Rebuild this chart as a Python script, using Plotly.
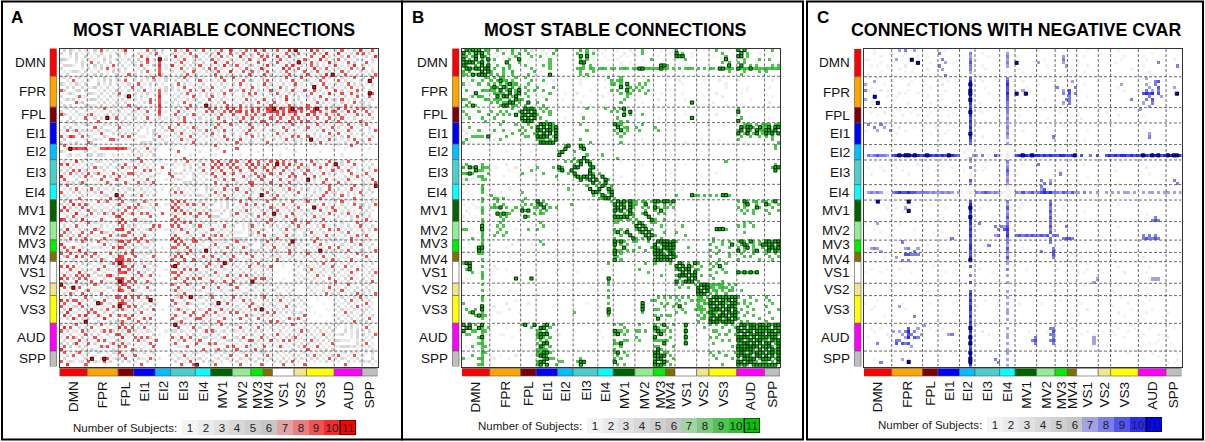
import numpy as np
import plotly.graph_objects as go

W, H = 1205, 442
FONT = "Liberation Sans, Arial, Helvetica, sans-serif"

networks = ["DMN", "FPR", "FPL", "EI1", "EI2", "EI3", "EI4", "MV1",
            "MV2", "MV3", "MV4", "VS1", "VS2", "VS3", "AUD", "SPP"]
network_sizes = [9, 10, 5, 7, 5, 8, 5, 7, 6, 4, 3, 7, 4, 9, 9, 5]
network_colors = ["#ff0000", "#ffa500", "#7f0000", "#0000ff", "#00bfff", "#48d1cc",
                  "#00ffff", "#006400", "#90ee90", "#00ee00", "#7f7000", "#ffffff",
                  "#f0e68c", "#ffff00", "#ff00ff", "#bebebe"]

subject_levels = list(range(1, 12))
gray_levels = ["#f3f3f3", "#eaeaea", "#e1e1e1", "#d8d8d8", "#cfcfcf", "#c6c6c6"]
red_levels = ["#e3a3a3", "#ea7d7d", "#f05353", "#f72a2a", "#ff0000"]
green_levels = ["#a3d3a3", "#7ccb7c", "#52c352", "#29c429", "#00c800"]
blue_levels = ["#a3a3e3", "#7d7deb", "#5353f0", "#2a2af7", "#0000ff"]

# Upper triangle of each matrix: one string per node, holding the columns to the
# right of the diagonal; '|' separates networks. '.' = 0, 1-9, a = 10, b = 11 subjects.
variable_rows = [
    # DMN
    "4.52.4.2|2.5.9.4.2.|.4a.2|..2.9.4|2.5..|.9.4.a.2|4.9.2|.4.9..a|2.5.9.|.a.4|9.2|.9.2.a.|b.2.|.a.9.4.2.|4.9.2.5.a|.2.9.",
    ".5.4.2.|4.2.5..2.4|2.5..|.4.2.5.|9.2..|4.2.5.9.|.2.4.|5.a.2.9|.4.9.2|2.9.|.5.|4.2.9.5|.9.4|2.9.5.a..|.a.2.4.9.|9.4..",
    "2.4..5|.2.4.2.5..|4.2.5|2.9.4..|.4.2.|.a.4.2.5|9.2.4|.4.9.5.|2.a.4.|4..9|.9.|.a.4.9.|4.2.|.9.2.a.4.|2.5.9.4..|.4.2a",
    ".4.2.|4.2..5.2.4|.2.4.|.5..a.2|.b.4.|2.4.9..2|.4.2.|9.5.2.4|.2.5.9|2.4.|9..|2.9.4..|.4.9|4.2.a.5.2|.9.4.2.5.|2..4.",
    "2.4.|.9.4.2.5..|4.2.5|2.4.9..|.9...|.4.9.2.4|2.4..|.a.2.9.|4.2.5.|..9.|2.4|.9.2.5.|.b.4|.9.4.2.a.|4.2.9.5..|.9.2.",
    ".4.|2.5.4.2.9.|.4.2.|4.9.2.5|.a.2.|a.2.5.4.|.9.2.|2.4.a.5|.9.2.4|4.2.|.a.|4.2.9.a|2.4.|.9.5.2.4.|9.2.4.a..|4.2..",
    "2.|4.2.5.9.2.|2.4..|.2.5..|.9.2.|.2.9.4.5|2.5.9|.9.4.2.|2.4.9.|.2.a|4..|.2.a.9.|.9..|2.a.4.9.2|.4.2.9.5.|9..2.",
    "4|.2.4..2.5.|4.2..|2.4.9..|.9...|4.2.5..9|.2.4.|4.9.2.a|.2.9.4|9.4.|.9.|5.4.9.2|4..9|.4.9.2.4.|2.9.5.2.4|.2.4.",
    "|2.4.5.2..4|.2.9.|4.2..2.|.a4.2|.2.4.9.2|4.2..|.9.2.4.|2.4..9|4.2.|9.4|.2.4.9.|2.4.|9.2.4.a.b|.4.9.2.4.|2.4.9",
    # FPR
    "4.2.5.2.4|2.4..|4.2.5.9|.2.4.|2.4.9.2.|4.2..|.4.9.2.|9.2.4.|.2.4|2..|4.2.9..|2.9.|.2.4.9.4.|2.4.2.9..|4..9.",
    ".2.4.5.2|4.9..|2.4.2.5|.2.4.|.4.2.5..|.9.2.|2.4.9..|.2.9.4|4.2.|.9.|2.4.2.9|.2.4|4.2.9.2..|.9.4.2..4|..b..",
    "5.2.4.2|.2.4.|.9.2.4.|4.2..|2.9.4.2.|2.4..|.2.4.2.|4.9.2.|..2.|9.4|.2.4.2.|9.2.|.4.2.9.2.|4.2.9.4.2|.2.4.",
    "2.4.2.|4.2.9|2.4..2.|.2.4.|4.2.9..2|.4.2.|9.2.4..|2.4.2.|9.2.|.4.|2.9.4..|4.2.|..b.2.9.4|.2.4.9.2.|4..2.",
    "4.2.5|.2.4.|.4.9.2.|.9.4.|2.4.2.9.|4.9.2|.2.4..9|.4.9.2|2.4.|2.9|4.2.4.9|.2.9|2.9.4.2..|9.4.2..9.|2.4..",
    "2.4.|9.2..|4.2.5..|.9.2.|.2.4.9.2|.2.4.|4.2.9.2|2..4.9|.9.2|..4|.9.2.4.|4.2.|.9.2.4.a.|2.9..9.4.|..b9.",
    "4.2|2.4b.|2.4.2..|.a...|2.4.2..9|.2.4.|9.2.4..|.2.4.2|4.2.|.2.|2.4.9.2|.4.2|4.2.9..2.|.2.4.2.9.|2.9..",
    "2.|.4.2.|4.2..9.|.9...|.4.2.4.2|4.2.9|.2.4.2.|4.2.9.|.4.2|9..|4.2.a.2|.4..|2.4.2.9.4|4.9.2.4..|.2.4.",
    "4|2.4..|.2.4.9.|.9.2.|4.2.9.2.|.4.2.|2.4.9..|.2.4.2|2.9.|.4.|9.2.4.2|2.4.|.2.9.4.2.|2.4.2.9.4|4.2..",
    "|.2.9.|4.2..2.|.a...|2.4.2.9.|4..b2|.4.2.9.|2.9.4.|4.2.|2.9|.4.2.9.|4.2.|9.2.4.2.4|.2.9.4.2.|2.4..",
    # FPL
    "4.2.|.9.4.2.|.9...|.4.2.9.2|4.2.9|.9.4.a.2|a.9.4.9|9.a.|4a9|b.a9.9b|.9a.|9.ab..9.4|.a.9.4.9.|9.4.2",
    "2.4|4.2.9..|.a.2.|2.9.4.2.|.2.9.|9.4.9.a|.9a.9.|a.9.|.9a|9a.9.a9|a.9.|.9a.9.4.9|9.4.a.9.2|.9.4.",
    "4.|.2.4.2.|.9...|.9.2.4.9|2.4.2|.4.9.2.|9.2.9.4|.9.4|9.2|.9.a.4.|9.2.|a.9.4.9.2|.9.4.2.9.|2.9..",
    "2|4.2.9..|.4.2.|2.4.9..2|.4.2.|2.9.4.2|.4.9.2|9.4.|2.9|4.9.2.9|.9.4|.4.9.2.9.|4.9.2.4..|.2.4.",
    "|.2.4.2.|2.4..|4.2.9.2.|.2.4.|4.2.9..|2.9.4.|.4.9|9..|.9.4.a.|4.9.|9.4.2.9.4|.9.4.2..9|4.2..",
    # EI1
    "2.4.2.|.4.2.|2.9.4.2.|.2.4.|4.9.2.9|.4.2.9|2.4.|.9.|4.2.4.9|2.4.|.2.9.4.2.|2.4.9.2.4|.9.2.",
    "4.2..|2.4.9|.4.2.4.9|4.2..|.9.4.2.|2.4.2.|9.2.|4..|.2.9.4.|.4.2|9.2.4.2.9|.4.2.9.2.|2.4..",
    ".2.4|.2.4.|9.2.4.2.|.4.9.|2.4.9.2|.2.4.9|.4.2|2.4|4.2.9.2|2..4|.2.4.9.2.|4.2.9.2.4|..2.9",
    "2.4|4.2..|.4.9.2.4|2.4..|9.2.4.2|4.2.9.|2.4.|.2.|.9.4.2.|4.2.|2.4.2..9.|.9.2.4.2.|4.2..",
    ".2|.9.2.|2.4.2.9.|.2.4.|4.2.9..|2.4.2.|9.4.|4.2|2.4.2.9|.9..|9.2.4.2.4|2.4.9.2..|.2.4.",
    "4|2.4..|.2.9.4.2|4.2..|.4.2.9.|4.9.2.|.2.4|2..|4.2.9.2|2.4.|.b.4.2.9.|4.2.4.9.2|2.9..",
    "|.2.4.|4.2..2.9|.2.4.|2.4.2..|.9.2.4|4.2.|.9.|.2.4.2.|4.2.|2.4.9.2..|.2.4.2.9.|4.2..",
    # EI2
    "2...|.2..2...|..2..|.9...2.|..2...|....|..2|.2.....|....|..2.....|.2...9...|.....",
    "..2|2...2...|.....|..2....|.9....|....|...|....2..|....|.........|...2.....|..2..",
    "..|..9.....|.2...|....9..|......|..2.|...|.......|2...|....2....|.........|.....",
    ".|.2....2.|.....|.2.....|..2...|....|...|..2....|....|.........|..2......|.....",
    "|....9...|..2..|.......|......|....|.2.|.......|....|...2.....|.........|.2...",
    # EI3
    "4.2.9.2|.4.2.|9.a.4.9|.9.4.a|2.9.|4.9|.a.9.4.|9.2.|.9.4.2.9.|2.4.9.2..|4.2..",
    "2.4.2.|4.9.2|.9.a.9.|9.4.9.|a.9.|.9.|.b.9.a.|4.9.|2.9.4.9.2|b.4.2.9..|.2.4.",
    ".2.4.|.4.2.|a.9.4.9|.9.2.9|.9.4|9.2|9.4.9.2|.9.4|4.2.9.2.4|.9.2.4.2.|2.4..",
    "4.2.|2.9..|.4.9.2.|4.9..2|9.2.|.a.|.2.9.4.|2.4.|9.2.4.2.9|2.4.9..2.|4.2.9",
    "2.4|.2.4.|9.2.a.4|9.4.2.|.9.4|2.9|4.9.2.9|.2.9|.4.2.9.4.|4.2..9.2.|.9.2.",
    ".2|4.2..|.9.4.2.|.2.9.4|2.9.|9..|.4.2.9.|9.2.|2.9.4..2.|.2.4.2.9.|2.4..",
    "4|.2.4.|2.4.9.2|9.2.4.|.4.9|.2.|2.9.4.2|4.2.|b.4.2.9.2|4.2.9.2..|.2.9.",
    "|4.2..|.9.2.4.|.4.2.9|9.2.|4.9|.2.4.9.|.4.2|4.2..9.2.|.9.4.2...|4.2.9",
    # EI4
    "2.4.|.4.2.9.|2.4.2.|9.2.|.4.|2.9.4.2|4.2.|.2.4.2.9.|2.4.2.9..|4.2.b",
    ".4.|4.2.9.2|.9.2.4|.2.4|2.4|.2.4.9.|2.4.|4.2.4..9.|.4.2.9.2.|2.4..",
    "2.|.9.4.2.|4.2.9.|4.2.|.9.|4.2.4.2|.9..|2.4.2.9.4|4.2.4.2.9|.2.4.",
    "4|2.4.9.2|.2.4.2|...b|2.4|.9.4.2.|4..2|.4.2.9.2.|2.9.4.2..|4.2..",
    "|.2.4.9.|4.2..9|2.4.|.2.|9.2.4.2|.2.4|4.2.9.2.4|.4.2..9.2|2..4.",
    # MV1
    "4.2.4.|2.9.4.|4.2.|.9.|2.4.2.9|.2.4|9.4.2..2.|4.9.2.4..|.2.4.",
    ".2.4.|4.2.9.|.9.2|4.2|.4.9.2.|4.2.|.2.4.9.2.|2.4.2.9.4|4.2.9",
    "2.4.|.2.4.2|2.4.|2.9|4.2.4.2|.9..|..b.2.4.9|.2.4.2..9|2.4..",
    "4.2|2.4.9.|.2.4|.4.|.9.2.4.|2.4.|4.2.9.2.4|9.2.4.2..|.4.2.",
    ".2|.9.2.4|4.2.|9.2|b.4.2.9|.2.4|.4.2.4.9.|2.4.9.2.4|4.2..",
    "2|4.2.4.|2.9.|.4.|4.2.9.2|4.2.|2.9.4.2..|.4.2.4.9.|2.4..",
    "|.2.4.2|.4.2|2.9|.2.4.2.|9.4.|.4.2.9.2.|4.2..4.2.|.9.2.",
    # MV2
    "4.2.4|2.4.|.9.|4.2.4.9|2.4.|9.2.4.2..|2.4.2..9.|4.2..",
    ".2.4|9.2.|2.4|.4.2.4.|.9.2|.2.4.9.2.|4.2.4.2.9|.2.4.",
    "2.4|.2.4|4..|2.4.9.2|4.2.|4.2.4..9.|.9.2.4.2.|2.4.9",
    ".2|4.9.|.2.|.2.4.2.|2..4|.9.2.4.2.|2.4.9.2..|4.2..",
    "4|2.4.|9.2|4.2.9.4|.2.4|2.4.2.9.4|.2.4.2.9.|.9.2.",
    "|.4.2|2.4|.9.2.4.|4.2.|.4.9.2.4.|4.2..9.2.|2.4..",
    # MV3
    "2.4|.9.|4.2.4.b|2.4.|..9.2.4.2|.2.4.9.2.|4.2..",
    ".2|4.2|.2.4.9.|.4.2|4.2.9.2..|2.4.2.4.9|.2.4.",
    "4|.2.|9.2.4.2|4.2.|.2.4.2.9.|.9.2.4.2.|2.4..",
    "|2.4|.4.2.9.|2..4|4.2.b.4.2|2.4.9.2.4|4.2.9",
    # MV4
    "2.|.4.2.9.|2.4.|9.2.4.2.4|.2.4.2.9.|4.2..",
    "4|2.4.2.4|.2.4|.4.2.9.2.|4.2.4.2..|.9.2.",
    "|.9.2.4.|4.2.|2.4.2.4.9|.4.2.9.2.|2.4..",
    # VS1
    "..1...|2.4.|.2.4.9.2.|4.2.4.2..|.2.4.",
    ".1...|.4.2|4.2.4.2.9|.2.9.4.2.|4.2..",
    "...1|2..4|.9.2.4.2.|2.4.2..9.|.2.4.",
    ".1.|.2..|4.2.4.2.4|.4.2.9.2.|2.4.9",
    "..|4.2.|.2.9.4.2.|4.2.4.2..|.2.4.",
    ".|.2.4|2.4.2..9.|.2.4.9.2.|4.2..",
    "|2.4.|.4.2.4.2.|9.2.4.2.4|.2.9.",
    # VS2
    "1..|.2.4.2.4.|4.2.9.2..|2.4..",
    ".1|4.2..2.9.|.2.4.2.4.|.4.2.",
    ".|.4.2.4.2.|2.9.2.4.2|2.4..",
    "|2.4.2.9.4|.4.2.4.9.|4.2.9",
    # VS3
    "..1...1.|2.4.2.4.9|.4.2.",
    ".1.....|.2.4.9.2.|2.4..",
    "..1...|4.2.4.2..|.9.2.",
    ".....|.4.2.4.9.|2.4..",
    ".1..|2.4.2.4.2|.4.2.",
    "...|.2.9.4.2.|4.2..",
    ".1|4.2.4.2.4|.2.4.",
    ".|.4.2.4.2.|2.9..",
    "|2.4.2.9.4|.4.2.",
    # AUD
    "4.2.4.2.|2.4..",
    ".2.4.2.|.9.2.",
    "4.2.4.|2.4..",
    ".2.4.|4.2.9",
    "2.4.|.2.4.",
    ".2.|4.2..",
    "4.|.9.2.",
    "2|2.4..",
    "|.2.4.",
    # SPP
    "2.4.", ".2.", "4.", "2", "",
]

stable_rows = [
    # DMN
    "bab9b1a9|1.92.1.a2.|.9.31|.12.1.9|.....|.1a.9.21|..1..|.1...2.|..9...|..1.|...|9.....1|..1.|..9.1.1.1|b.b1.....|1.9..",
    "a2b9b.9|.21.9..9.a|..9..|..12.a.|.....|.9..a.9.|.1...|...2..1|..9...|....|.1.|b.9..1.|....|....9..1.|.b.9...1.|..1..",
    "9b.ba1|..2.1.2.9.|.1.9.|.9.1..2|.....|..b.b.1.|..1..|..1.1..|1.....|.1..|...|bbb..1.|....|.1...9...|bb.9.....|..1..",
    "b.9.b|.9..1.9..b|..1..|..1.9..|.....|..9.9.1.|...1.|.1.....|..1..9|....|..1|...9...|.1..|.....b...|..9...19.|.9...",
    "ab19|.2...b...9|..1..|...19..|.....|..bb..1.|.....|..1..1.|......|..1.|...|.......|....|....9.9..|9.9...1..|....1",
    "b.b|..9..1a...|.9...|..9.9..|.....|...9.9..|.....|..1....|...1..|..bb|9..|...1...|....|......b..|.b..9.9..|..9.9",
    "bb|.9..a.9...|...9.|..1.9..|.....|.9a9.a9.|9a9.9|9.9a9.9|9bb9a9|9ab9|9.9|.9.9a9.|9.9.|a9.bb9a9.|b9a9b9a99|a9a9a",
    "b|9..19..a..|....9|.1.....|.....|..9...9.|.....|..1....|......|....|...|..1....|....|.1....9..|..9....9.|9....",
    "|9.9.9..9..|..9..|....b..|.....|..9.9...|...1.|.......|..1...|....|...|..1....|....|.........|.9.....1.|.....",
    # FPR
    "9.a9.1.9.|.9...|1..2...|.....|...1....|...9.|..9....|......|....|...|...1...|....|...1.....|........1|..1..",
    "9b9a.9..|...9.|..9..2.|.....|..1.....|..1.9|.9a....|....9.|....|...|.2.....|..1.|...2.....|1........|..2..",
    "a.9b9a.|..9..|...1...|.....|..1.....|....9|9.9.b..|.9.9..|....|...|..1....|....|.....1...|.........|.....",
    "b9.a.9|.9...|9....9.|.....|........|..1..|..b.9a.|9.9...|....|...|.......|....|.....1...|...1.....|.1...",
    "9b.9b|..9.9|..9....|.....|.....1..|....9|.9..b.9|.9..9.|....|...|.......|....|.........|...1.....|.....",
    "b.9b|.9...|....9..|..1..|.2......|...1.|..9.a9.|...9..|..1.|...|..1....|....|..2......|.1.......|.....",
    "9b.|..9..|..2....|.....|...1....|.2...|....9..|.1....|....|.1.|.......|..1.|....2....|.........|..1..",
    "b9|9....|...9...|.1...|........|.....|...9...|......|.2..|...|...1...|....|.........|....1....|.....",
    "9|..b..|9......|.....|..2.....|.....|..9....|..1...|....|...|.....b.|....|.1.......|.........|.2...",
    "|.9...|..9....|.....|.....1..|..1..|.......|......|1...|...|.......|....|.....1...|..1......|.....",
    # FPL
    "bab9|.9.9...|.....|....9...|..9..|9.9b...|......|....|...|.......|....|.........|9........|.....",
    "b.b|..9.9..|.....|........|....9|.9.9.b.|......|....|...|.......|....|.........|b........|.....",
    "bb|9...9..|.....|..1.....|.....|...b.9.|..9...|....|...|...1...|....|..2......|.........|.....",
    "b|.9.....|..1..|...9....|.....|.9.....|......|.1..|...|.....b.|....|.........|.9.......|.1...",
    "|...9...|.....|........|.....|..9.9..|......|....|...|.......|....|.........|b........|.....",
    # EI1
    "bbab9.|.....|..9.....|.....|b9a....|..9...|....|...|.......|....|.........|..9a9.9.9|a9.9a",
    "b.b9b|.....|........|.....|.b.9a..|9.....|9...|...|.......|....|.........|.b9bb9.b9|9b.bb",
    "bb9b|.....|....9...|.....|9.b.9..|.9....|.9..|...|.......|....|.........|9b.b9.b9a|bb9b.",
    "b.b|.....|........|.....|.9.9...|......|....|...|.......|....|.........|b.9b.9b.9|b9b.b",
    "9b|.....|........|.....|..9....|......|....|...|.......|....|.........|.9..9..9.|9.9..",
    "b|.....|..9.....|.....|.......|..1...|....|...|.......|.1..|...1.....|9........|..9..",
    "|..1..|.....9..|.....|..9....|......|....|.1.|...2...|....|.........|..1......|....9",
    # EI2
    ".9b.|..b9....|.....|.......|......|....|...|..1....|....|.........|...1.....|...9.",
    "b..|..9b....|.....|.......|......|....|...|.......|....|.........|.........|...9.",
    "..|9.......|.....|",
    ".|....9...|.9...|",
    "|9..b....|.....|.9.....",
    # EI3
    "9b.b9..|.....|..1....|......|....|...|.......|....|.....9...|..1......|.....",
    "b..b..|.....|.......|..1...|....|...|...1...|....|.........|.........|...9.",
    "..9b.|.....|.......|......|....|...|.......|....|.........|.........|..9bb",
    ".b..|.....|.......|......|....|...|.......|....|.........|.........|...b.",
    "b9.|9....|.......|......|....|.1.|.......|....|..1......|",
    "b.|.b...|..1....|......|....|...|.......|.1..|",
    "b|..b9.|",
    "|9.b..|",
    # EI4
    "b9.9|.......|..1...|....|...|.......|....|...1.....|..1......|",
    ".b9|.......|......|....|...|..1....|....|.........|....1....|",
    "9b|",
    "b|.......|......|....|...|9....b9|9.9.|9.9.bb9..|.........|.....",
    "|9......|",
    # MV1
    "bab9b9|9.a9.9|bbab|b9b|.......|....|.........|9.b9.9a.9|9.9b.",
    "b9.b9|9..b..|9..9|.9.|.......|....|.........|..9b..9..|b9..9",
    "b.b9|..9.9.|b9.9|9.9|.......|....|.........|9.9...b9.|..9..",
    "9b.|...9..|9.b.|...|.......|....|.........|.9.9.9...|9...9",
    "b9|..9b..|.9.9|...|.......|....|.........|..9..9...|.9...",
    "9|....b.|",
    "|9....b|9..9|",
    # MV2
    "b9..9|9...|...|.......|....|.........|..9.9....|.....",
    "b9..|..9.|...|..9....|....|.........|9.9..9...|.....",
    "b.9|....|...|.......|....|..bbb9...|.........|.....",
    "b.|...9|...|9......|....|.........|..9......|.....",
    "b|9...|...|...9...|....|..1......|.1.......|",
    "|..9.|...|.......|....|.9.......|....1....|",
    # MV3
    "bbb|b9b|9......|....|.9..9.9..|9b9.b9.9.|bb9bb",
    "9b|bbb|.......|....|9...9..b.|.9b9.9.9b|b9b.b",
    "b|b9b|....9..|....|..9...9..|9.9b.9..9|.bb9b",
    "|9b9|.......|....|9..9.....|b.9..9b..|9b.b9",
    # MV4
    "bb|.......|....|..9...9..|.9...9...|9..9.",
    "b|9......|....|9.....9..|..9.9....|.9..9",
    "|.......|....|...9.....|9......9.|..9..",
    # VS1
    "b9.9.b|9...|9.9..9...|.........|.....",
    "b.b9.|.9..|.9.b.....|.........|.....",
    "bb.9|9...|9...9....|.........|.....",
    "b.b|....|..9..9...|b9b9b9b..|.....",
    "bb|.9..|9........|..1......|",
    "b|....|.9.......|....1....|",
    "|9...|....9....|.1.......|",
    # VS2
    "bbb|9a9a9.9.9|",
    "bb|a9.9a9.9.|",
    "b|.9a.9.a9.|.9.......|",
    "|9.9..9...|",
    # VS3
    "bbbab9bb|9...9....|9....",
    "b.b9b.b|..9...9..|.9...",
    "bb9.bb|9.9.9....|..9..",
    "b.bb9|...9.....|9....",
    "bb.b|.9...9...|....9",
    "b9b|9..9.....|.9...",
    "bb|..9..9...|.....",
    "b|9......9.|..9..",
    "|.9.9.....|9....",
    # AUD
    "bb9bbabb|9b9bb",
    "b.bb9bb|b9.b9",
    "bb.b9b|9bb.b",
    "b9bbb|.b9b9",
    "b.bb|b9bb.",
    "bb9|9.b9b",
    "b.|bb.9b",
    "b|9b9.b",
    "|b.b9b",
    # SPP
    "bb9b", "b.b", "9b", "b", "",
]

negative_rows = [
    # DMN
    "..1.....|..7.8..7..|.....|..1|...1.|........|..1..|.......|1.....|....|...|...1...|....|..1......|.........|.....",
    ".1....2|1...2....|.....|8..|...8.|..1.....|..7..|.......|......|..1.|...|.......|1...|.........|....1....|.....",
    "..1...|...1....1.|.1...|.......|...7.|....1...|..8..|1......|......|..7.|...|..1....|....|....1....|.1.......|.....",
    ".....|.7....b...|.....|.8.....|...8.|1.......|..7..|.......|..1...|..8.|...|.......|....|...1.....|..1......|..1..",
    "1...|1.......b.|..1..|..7....|...9.|........|..8..|b......|7.....|..7.|...|.......|....|.1.......|......8..|.....",
    ".1.|....2.....|.....|8......|...8.|..1.....|..7..|.......|...1..|...7|...|...1...|....|.........|.1.......|...8.",
    "..|..1.......|.2...|.7.....|...8.|...1....|.....|.1.....|......|....|.1.|.......|....|......1..|.........|.....",
    ".|....1.1...|.....|.......|...7.|........|..1..|..1....|......|....|...|..1....|....|.........|...2.....|.....",
    "|.1........|.....|..8....|...1.|.1......|.....|.......|1.....|....|...|.......|.1..|.........|....1....|.....",
    # FPR
    "..1......|.....|.1.....|...9.|........|..8..|.......|..1...|....|...|.......|....|.1.......|..7......|.....",
    "....1...|1....|...1...|...a.|..1.....|..9..|..1....|......|....|.7.|.......|....|.........|.....89..|.....",
    "..2....|.....|.2.....|...b.|........|..a..|.......|1.....|....|...|..1....|....|...7.....|..7..8...|.....",
    "......|..1..|.......|...a.|...1....|..9..|...1...|......|8...|..8|.......|....|..1......|...7..9..|..7..",
    "1....|.....|..1....|...b.|........|..9..|..7....|......|..7.|9..|.......|....|....1....|..8.7.8..|.....",
    "..1.|.....|.......|...b.|....1...|..a..|b..b...|......|..8.|9.8|.......|....|.........|.9a9a.9..|...b.",
    "...|.1...|.......|...a.|........|..9..|.1.....|......|....|8..|...1...|....|.........|...8...7.|.....",
    "..|.....|.1.....|...b.|........|..9..|.......|..1...|...8|8..|.......|....|......8..|..8.9....|.....",
    ".|..1..|.......|...a.|.1......|..8..|.......|......|..7.|8..|.......|1...|.........|.7..8....|.....",
    "|.....|..1....|...9.|........|..8..|.......|......|....|...|..1....|....|.........|...7.....|.....",
    # FPL
    "....|.1.....|...a.|........|..8..|.......|..1...|....|...|.......|....|.........|7........|.....",
    "1...|.......|...b.|..1.....|..8..|.......|......|.1..|...|.......|..1.|.........|.........|.....",
    "..|...1...|...a.|........|..7..|.1.....|......|....|...|.......|....|..1......|.1.......|.....",
    ".|.......|...9.|........|..8..|.......|...1..|....|...|.1.....|....|.........|.........|.....",
    "|.1.....|...a.|...1....|..7..|.......|......|....|...|.......|....|.........|..1......|.....",
    # EI1
    "..1...|...9.|........|..7..|.......|......|..1.|...|.......|....|.........|.........|.....",
    ".....|...a.|.1......|..8..|.......|...1..|....|...|.......|....|.........|.1.......|.....",
    "1...|...9.|........|..7..|..1....|......|....|...|...1...|....|.........|.........|.....",
    "...|...b.|........|..8..|.......|......|....|...|.......|....|.........|...7.....|.....",
    "..|...a.|..1.....|..7..|.......|.....8|....|...|.......|....|.........|...8.....|.....",
    ".|...9.|........|..1..|.......|......|....|...|..1....|....|.........|.........|.....",
    "|...8.|........|..7..|.......|1.....|....|...|.......|....|.........|.........|.....",
    # EI2
    "....|........|..1..|",
    "1..|...1....|.....|.......|......|....|...|.1.....|",
    ".1|........|..1..|1......|",
    "7|7.8.1.97|1.2.1|9aba9ba|a9a9a9|9aa9|9ab|.9..8.9|..9a|9a9aa9a9a|9ba9bab9a|babba",
    "|........|..1..|",
    # EI3
    "..1....|..8..|.......|......|....|...|.......|....|...1.....|1........|.....",
    "......|..7..|..1....|8.....|....|...|..1....|....|.........|.........|.....",
    "1....|..8..|.......|......|....|...|.......|....|.........|..2......|.....",
    "....|..9..|.......|......|.1..|...|.......|....|.1.......|.........|.....",
    "...|..8..|1......|......|.8..|...|.......|....|.........|...1.....|.....",
    "..|..7..|.......|......|....|...|...1...|....|.........|.........|.....",
    ".|..8..|.......|.8..7.|....|...|.......|....|.........|.........|..8..",
    "|..7..|.......|..8.8.|....|...|.......|....|..1......|.........|...8.",
    # EI4
    ".2..|.......|.8....|....|...|.......|....|.........|.........|.....",
    "1..|.......|.79...|....|...|..1....|....|.........|.........|.....",
    "1.|8797897|89a9a8|8798|797|7.8.7.7|..7.|7.7.77.7.|.7.77.7.7|7.7.7",
    ".|..1....|",
    "|.......|..1...|",
    # MV1
    "......|....8.|",
    "1....|....9.|....|...|.......|....|..1......|",
    "....|....8.|..1.|",
    "...|....9.|....|...|..1....|",
    "..|....8.|....|...|.......|....|.........|..1......|",
    ".|....9.|....|...|.......|....|.........|.....8...|",
    "|....8.|....|...|.......|....|.........|....898..|",
    # MV2
    "...8.|",
    "..9.|...8|...|.......|....|..1......|",
    ".8.|",
    "9.|....|...|.......|....|.........|..1......|",
    "8|8...|...|.......|....|.........|.8.8.8...|",
    "|..89|98.|.......|....|.........|.898898..|",
    # MV3
    "...|...|..1....|",
    "1..|...|.......|....|.1.......|",
    ".|..1|",
    "|...|...1...|",
    # MV4
    "1.|",
    ".|.1.....|....|.........|.2.......|",
    "|.......|....|...1.....|",
    # VS1
    "..1...|",
    ".....|....|..1......|...1.....|",
    "1...|1...|",
    "...|....|....2....|..1......|",
    "..|",
    "7|....|.........|...1777..|",
    "|.1..|",
    # VS2
    "...|..1......|", ".|...|..1......|", "|1........|", "|.........|..1......|",
    # VS3
    "..1.....|..1......|", "|...1.....|", "..1...|.1.......|", "|", ".1..|....1....|",
    "|..1......|1....", "|1........|", "|.1.......|", "|",
    # AUD
    "...1....|", ".1.....|..1..", "|", "..1..|", "|1....", "1..|", "|.1...", "|", "|..1..",
    # SPP
    "..1.", "", "1", "", "",
]

starts = np.cumsum([0] + network_sizes)
N = int(starts[-1])
block_of = np.repeat(np.arange(len(network_sizes)), network_sizes)


def parse(rows):
    m = np.zeros((N, N), dtype=int)
    for i, row in enumerate(rows):
        b = block_of[i]
        lengths = [int(starts[b + 1]) - i - 1] + network_sizes[b + 1:]
        segs = row.split("|")
        vals = ""
        for k, n in enumerate(lengths):
            s = segs[k] if k < len(segs) else ""
            vals += s.ljust(n, ".")[:n]
        for k, ch in enumerate(vals):
            v = 0 if ch == "." else int(ch, 16)
            m[i, i + 1 + k] = v
            m[i + 1 + k, i] = v
    return m


def discrete_scale(colors):
    n = len(colors)
    scale = []
    for k, c in enumerate(colors):
        scale += [[k / n, c], [(k + 1) / n, c]]
    return scale


def px(x):
    return x / W


def py(y):
    return 1 - y / H


panels = [
    dict(letter="A", title="MOST VARIABLE CONNECTIONS", rows=variable_rows, hue=red_levels,
         mx=(59.5, 377.5), my=(48.5, 366.5), bar=(50, 56.5), lab=47.5,
         title_x=214, letter_x=16.5, leg_x=(182, 356), leg_y=(420, 435)),
    dict(letter="B", title="MOST STABLE CONNECTIONS", rows=stable_rows, hue=green_levels,
         mx=(462, 780), my=(48.5, 366.5), bar=(452.5, 459), lab=450,
         title_x=615.5, letter_x=418, leg_x=(587, 760), leg_y=(418, 433)),
    dict(letter="C", title="CONNECTIONS WITH NEGATIVE CVAR", rows=negative_rows, hue=blue_levels,
         mx=(864, 1181.5), my=(49, 366.5), bar=(854.5, 861), lab=852,
         title_x=1016, letter_x=823, leg_x=(987, 1162), leg_y=(417, 432)),
]

# small vertical nudges (in cells) so the two short networks' names do not collide
label_nudge = {"MV3": -0.7, "MV4": 0.7}

fig = go.Figure()
shapes = []
annotations = []
layout = {}

for k, p in enumerate(panels):
    m = parse(p["rows"])
    scale = discrete_scale(["#ffffff"] + gray_levels + p["hue"])
    a = "" if k == 0 else str(k + 1)
    la = str(k + 4)
    xr, yr = "x" + a, "y" + a

    fig.add_trace(go.Heatmap(z=m, x=np.arange(N), y=np.arange(N), colorscale=scale,
                             zmin=-0.5, zmax=11.5, showscale=False, hoverinfo="skip",
                             xaxis=xr, yaxis=yr))
    ii, jj = np.where(m == 11)
    fig.add_trace(go.Scatter(x=jj, y=ii, mode="markers", xaxis=xr, yaxis=yr, hoverinfo="skip",
                             marker=dict(symbol="square", size=3.2, color=p["hue"][-1],
                                         line=dict(color="#000000", width=0.8))))

    axis_style = dict(showgrid=False, zeroline=False, showticklabels=False, ticks="",
                      showline=True, mirror=True, linecolor="#333333", linewidth=1)
    layout["xaxis" + a] = dict(domain=[px(p["mx"][0]), px(p["mx"][1])],
                               range=[-0.5, N - 0.5], anchor=yr, **axis_style)
    layout["yaxis" + a] = dict(domain=[py(p["my"][1]), py(p["my"][0])],
                               range=[N - 0.5, -0.5], anchor=xr, **axis_style)

    # dashed network boundaries inside the matrix
    for s in starts[1:-1]:
        dash = dict(color="#444444", width=0.8, dash="3px,2px")
        shapes.append(dict(type="line", xref=xr, yref=yr, x0=s - 0.5, x1=s - 0.5,
                           y0=-0.5, y1=N - 0.5, line=dash, layer="above"))
        shapes.append(dict(type="line", xref=xr, yref=yr, y0=s - 0.5, y1=s - 0.5,
                           x0=-0.5, x1=N - 0.5, line=dash, layer="above"))

    # network colour strips and names
    for b, name in enumerate(networks):
        lo, hi = starts[b] - 0.5, starts[b + 1] - 0.5
        mid = (starts[b] + starts[b + 1] - 1) / 2
        edge = dict(color="#555555", width=0.6)
        shapes.append(dict(type="rect", xref=xr, yref="paper", x0=lo, x1=hi,
                           y0=py(376), y1=py(368.5), fillcolor=network_colors[b], line=edge))
        shapes.append(dict(type="rect", xref="paper", yref=yr, x0=px(p["bar"][0]),
                           x1=px(p["bar"][1]), y0=lo, y1=hi,
                           fillcolor=network_colors[b], line=edge))
        annotations.append(dict(text=name, xref="paper", yref=yr, x=px(p["lab"]),
                                y=mid + label_nudge.get(name, 0),
                                xanchor="right", yanchor="middle", showarrow=False,
                                font=dict(family=FONT, size=13.5, color="#111111")))
        annotations.append(dict(text=name, xref=xr, yref="paper", x=mid, y=py(379),
                                xanchor="center", yanchor="top", textangle=-90,
                                showarrow=False,
                                font=dict(family=FONT, size=13.5, color="#111111")))

    # panel title and letter
    annotations.append(dict(text="<b>%s</b>" % p["title"], xref="paper", yref="paper",
                            x=px(p["title_x"]), y=py(30), xanchor="center", yanchor="middle",
                            showarrow=False, font=dict(family=FONT, size=17.8, color="#000000")))
    annotations.append(dict(text="<b>%s</b>" % p["letter"], xref="paper", yref="paper",
                            x=px(p["letter_x"]), y=py(18), xanchor="center", yanchor="middle",
                            showarrow=False, font=dict(family=FONT, size=17, color="#000000")))

    # subject-count key
    fig.add_trace(go.Heatmap(z=[subject_levels], x=subject_levels, y=[0], colorscale=scale,
                             zmin=-0.5, zmax=11.5, showscale=False, hoverinfo="skip",
                             texttemplate="%{z}", xgap=0, ygap=0,
                             textfont=dict(family=FONT, size=11.5, color="#222222"),
                             xaxis="x" + la, yaxis="y" + la))
    hidden = dict(visible=False, showgrid=False, zeroline=False)
    layout["xaxis" + la] = dict(domain=[px(p["leg_x"][0]), px(p["leg_x"][1])],
                                range=[0.5, 11.5], anchor="y" + la, **hidden)
    layout["yaxis" + la] = dict(domain=[py(p["leg_y"][1]), py(p["leg_y"][0])],
                                range=[-0.5, 0.5], anchor="x" + la, **hidden)
    shapes.append(dict(type="rect", xref="x" + la, yref="y" + la, x0=10.5, x1=11.5,
                       y0=-0.5, y1=0.5, line=dict(color="#000000", width=1.2)))
    annotations.append(dict(text="Number of Subjects:", xref="paper", yref="paper",
                            x=px(p["leg_x"][0] - 3), y=py((p["leg_y"][0] + p["leg_y"][1]) / 2),
                            xanchor="right", yanchor="middle", showarrow=False,
                            font=dict(family=FONT, size=11.5, color="#222222")))

# panel frames
for x0, x1 in [(2, 402), (402, 803), (807, 1203)]:
    shapes.append(dict(type="rect", xref="paper", yref="paper", x0=px(x0), x1=px(x1),
                       y0=py(439.5), y1=py(1.5), line=dict(color="#000000", width=2)))

fig.update_layout(width=W, height=H, margin=dict(l=0, r=0, t=0, b=0),
                  paper_bgcolor="white", plot_bgcolor="white", showlegend=False,
                  shapes=shapes, annotations=annotations, **layout)

# the page's default body margin would push the figure 8px off the window corner
fig.write_html("out.html", config={"displayModeBar": False},
               post_script="document.body.style.margin='0px';")
